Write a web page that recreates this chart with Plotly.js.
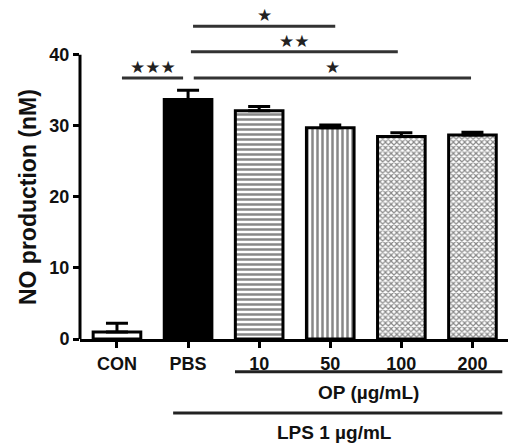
<!DOCTYPE html>
<html>
<head>
<meta charset="utf-8">
<script src="https://cdn.plot.ly/plotly-3.0.1.min.js"></script>
<style>html,body{margin:0;padding:0;background:#fff;}#chart{width:518px;height:444px;}</style>
</head>
<body>
<div id="chart"></div>
<script>
// Data
var categories = ['CON', 'PBS', '10', '50', '100', '200'];
var values = [1.0, 33.7, 32.1, 29.7, 28.5, 28.7];
var errorsUp = [1.2, 1.3, 0.6, 0.4, 0.5, 0.4];
var yTicks = [0, 10, 20, 30, 40];
var yTitle = 'NO production (nM)';
// significance brackets (category index positions) and labels
var sigFrom = [0.07, 1.07, 1.04, 1.08];
var sigTo = [0.93, 3.07, 3.95, 4.98];
var sigY = [36.7, 44.0, 40.4, 36.7];
var sigLabel = ['★★★', '★', '★★', '★'];
var opLabel = 'OP (µg/mL)';
var lpsLabel = 'LPS 1 µg/mL';

var FONT = 'Arial, "Liberation Sans", sans-serif';
var fills = ['white', 'black', 'white', 'white', 'white', 'white'];
var pShape = ['', '', '-', '|', 'x', 'x'];
var pSize = [6, 6, 5, 5, 4, 4];
var pSolid = [0.3, 0.3, 0.5, 0.5, 0.5, 0.5];

var traces = categories.map(function (c, i) {
  return {
    type: 'bar',
    x: [i],
    y: [values[i]],
    width: 0.67,
    marker: {
      color: fills[i],
      line: { color: 'black', width: 3 },
      pattern: { shape: pShape[i], fgcolor: '#888', bgcolor: fills[i], size: pSize[i], solidity: pSolid[i] }
    },
    error_y: {
      type: 'data', symmetric: false, array: [errorsUp[i]], arrayminus: [0],
      color: 'black', thickness: 3, width: 11
    },
    hoverinfo: 'none'
  };
});

var shapes = [
  { type: 'line', xref: 'paper', yref: 'y', x0: 0, x1: 0, y0: 0, y1: 40, line: { color: 'black', width: 3 } }
];
var annotations = [];
for (var i = 0; i < sigFrom.length; i++) {
  shapes.push({ type: 'line', xref: 'x', yref: 'y', x0: sigFrom[i], x1: sigTo[i], y0: sigY[i], y1: sigY[i], line: { color: '#333', width: 3 } });
  annotations.push({
    xref: 'x', yref: 'y', x: (sigFrom[i] + sigTo[i]) / 2, y: sigY[i], text: sigLabel[i],
    showarrow: false, yanchor: 'middle', yshift: 11, font: { family: '"DejaVu Sans", sans-serif', size: 17, color: '#222' }
  });
}
shapes.push({ type: 'line', xref: 'x', yref: 'paper', x0: 1.66, x1: 5.42, y0: -0.1, y1: -0.1, line: { color: '#222', width: 3 } });
shapes.push({ type: 'line', xref: 'x', yref: 'paper', x0: 0.79, x1: 5.42, y0: -0.226, y1: -0.226, line: { color: '#222', width: 3 } });
annotations.push({ xref: 'x', yref: 'paper', x: 3.54, y: -0.165, yanchor: 'middle', text: '<b>' + opLabel + '</b>', showarrow: false, font: { family: FONT, size: 19, color: '#111' } });
annotations.push({ xref: 'x', yref: 'paper', x: 3.06, y: -0.287, yanchor: 'middle', text: '<b>' + lpsLabel + '</b>', showarrow: false, font: { family: FONT, size: 19, color: '#111' } });
// y-axis title centered on the 0-40 axis line
annotations.push({ xref: 'paper', yref: 'y', x: -0.121, y: 20, xanchor: 'center', yanchor: 'middle', textangle: -90,
  text: '<b>' + yTitle + '</b>', showarrow: false, font: { family: FONT, size: 23, color: '#111' } });

var layout = {
  width: 518, height: 444,
  margin: { l: 80, r: 10, t: 12, b: 105 },
  paper_bgcolor: 'white', plot_bgcolor: 'white',
  showlegend: false,
  barmode: 'overlay',
  xaxis: {
    range: [-0.52, 5.5], tickvals: categories.map(function (c, i) { return i; }), ticktext: categories,
    showline: true, linecolor: 'black', linewidth: 3,
    ticks: 'outside', ticklen: 6, tickwidth: 3, tickcolor: 'black',
    showgrid: false, zeroline: false, fixedrange: true,
    tickfont: { family: FONT, size: 18, color: '#111', weight: 'bold' }
  },
  yaxis: {
    range: [0, 46], tickvals: yTicks, ticktext: yTicks.map(String),
    showline: false, ticks: 'outside', ticklen: 6, tickwidth: 3, tickcolor: 'black',
    showgrid: false, zeroline: false, fixedrange: true,
    tickfont: { family: FONT, size: 18, color: '#111', weight: 'bold' }
  },
  shapes: shapes,
  annotations: annotations
};

Plotly.newPlot('chart', traces, layout, { displayModeBar: false, staticPlot: true });
</script>
</body>
</html>
